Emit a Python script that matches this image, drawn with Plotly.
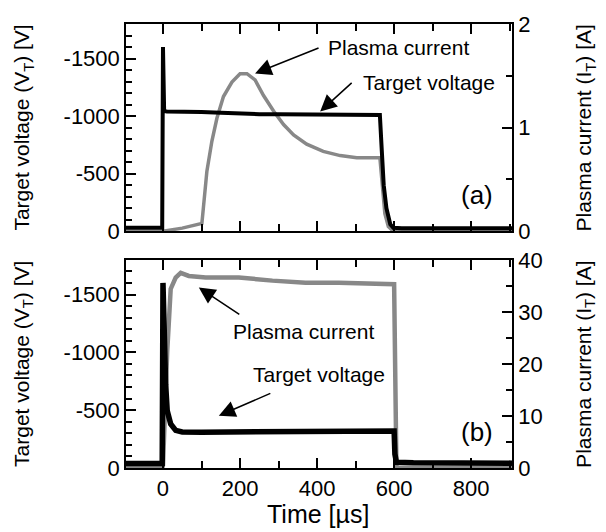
import plotly.graph_objects as go

# ---------------- data ----------------
# (a) target voltage [V] vs time [us]
t_va = [-96, -50, -2, 0, 1, 3, 10, 50, 100, 150, 200, 250, 300, 350, 400, 450,
        500, 540, 563, 568, 573, 580, 590, 598, 620, 700, 800, 906]
v_a = [-30, -32, -30, -1600, -1250, -1045, -1040, -1040, -1036, -1030, -1022, -1017,
       -1015, -1015, -1014, -1015, -1014, -1014, -1010, -700, -400, -200, -60, -30,
       -25, -25, -25, -25]

# (a) plasma current [A] vs time [us]
t_ia = [-96, 0, 50, 101, 114, 127, 140, 157, 179, 200, 218, 239, 261, 287, 313,
        339, 373, 416, 460, 503, 563, 568, 576, 585, 598, 700, 906]
i_a = [0.0, 0.0, 0.03, 0.076, 0.58, 0.87, 1.09, 1.30, 1.44, 1.52, 1.52, 1.46, 1.31,
       1.16, 1.03, 0.93, 0.84, 0.77, 0.73, 0.71, 0.71, 0.49, 0.17, 0.045, 0.0, 0.0, 0.0]

# (b) target voltage [V] vs time [us]
t_vb = [-96, -50, -2, 0, 2, 7, 11, 20, 33, 50, 100, 200, 300, 400, 500, 560, 600,
        602, 606, 650, 750, 906]
v_b = [-40, -42, -40, -1600, -1100, -720, -495, -380, -325, -312, -310, -312,
       -315, -320, -322, -322, -320, -120, -50, -45, -42, -42]

# (b) plasma current [A] vs time [us]
t_ib = [-96, -2, 0, 11, 20, 33, 46, 67, 111, 197, 284, 370, 456, 543, 600, 606, 650, 906]
i_b = [0.0, 0.0, 0.5, 22.4, 34.4, 36.6, 37.5, 36.9, 36.6, 36.6, 36.0, 35.6, 35.6,
       35.3, 35.3, 0.0, 0.0, 0.0]

x_range = [-96, 906]
x_ticks = [0, 200, 400, 600, 800]
x_ticktext = ["0", "200", "400", "600", "800"]
v_ticks = [0, -500, -1000, -1500]
v_ticktext = ["0", "-500", "-1000", "-1500"]
ia_ticks = [0, 1, 2]
ib_ticks = [0, 10, 20, 30, 40]

BLACK = "#000000"
GRAY = "#888888"
FONT = "Arial, Liberation Sans, sans-serif"

fig = go.Figure()
fig.add_trace(go.Scatter(x=t_ia, y=i_a, xaxis="x", yaxis="y", mode="lines",
                         line=dict(color=GRAY, width=3.5), showlegend=False))
fig.add_trace(go.Scatter(x=t_va, y=v_a, xaxis="x", yaxis="y2", mode="lines",
                         line=dict(color=BLACK, width=4), showlegend=False))
fig.add_trace(go.Scatter(x=t_ib, y=i_b, xaxis="x2", yaxis="y3", mode="lines",
                         line=dict(color=GRAY, width=4.5), showlegend=False))
fig.add_trace(go.Scatter(x=t_vb, y=v_b, xaxis="x2", yaxis="y4", mode="lines",
                         line=dict(color=BLACK, width=5.5), showlegend=False))

axis_common = dict(showline=True, linecolor="black", linewidth=1.5, ticks="inside",
                   ticklen=10, tickwidth=1.5, tickcolor="black", showgrid=False,
                   zeroline=False, tickfont=dict(size=22, family=FONT, color="black"))


def minor(d, ln=7):
    return dict(dtick=d, ticklen=ln, tickwidth=1.5, ticks="inside", tickcolor="black")


TOP = [0.5333, 1.0]
BOT = [0.0, 0.4689]

fig.update_layout(
    width=606, height=532,
    margin=dict(l=126, r=94, t=18, b=64),
    paper_bgcolor="white", plot_bgcolor="white",
    font=dict(family=FONT, size=21, color="black"),
    xaxis=dict(domain=[0, 1], anchor="y", range=x_range, tickvals=x_ticks,
               ticktext=x_ticktext, showticklabels=False, mirror="ticks",
               minor=minor(100), **axis_common),
    xaxis2=dict(domain=[0, 1], anchor="y3", range=x_range, tickvals=x_ticks,
                ticktext=x_ticktext, mirror="ticks", minor=minor(100), **axis_common),
    yaxis=dict(domain=TOP, anchor="x", side="right", range=[0, 2], tickvals=ia_ticks,
               minor=minor(0.5, 6), **axis_common),
    yaxis2=dict(overlaying="y", anchor="x", side="left", range=[0, -1800],
                tickvals=v_ticks, ticktext=v_ticktext, minor=minor(100, 6), **axis_common),
    yaxis3=dict(domain=BOT, anchor="x2", side="right", range=[0, 40], tickvals=ib_ticks,
                minor=minor(5, 6), **axis_common),
    yaxis4=dict(overlaying="y3", anchor="x2", side="left", range=[0, -1800],
                tickvals=v_ticks, ticktext=v_ticktext, minor=minor(100, 6), **axis_common),
)

ann = []
# axis titles
ann.append(dict(text="Target voltage (V<sub>T</sub>) [V]", xref="paper", yref="paper",
                x=-0.2668, y=0.7667, textangle=-90, showarrow=False,
                xanchor="center", yanchor="middle"))
ann.append(dict(text="Target voltage (V<sub>T</sub>) [V]", xref="paper", yref="paper",
                x=-0.2668, y=0.2344, textangle=-90, showarrow=False,
                xanchor="center", yanchor="middle"))
ann.append(dict(text="Plasma current (I<sub>T</sub>) [A]", xref="paper", yref="paper",
                x=1.189, y=0.7667, textangle=-90, showarrow=False,
                xanchor="center", yanchor="middle"))
ann.append(dict(text="Plasma current (I<sub>T</sub>) [A]", xref="paper", yref="paper",
                x=1.189, y=0.2344, textangle=-90, showarrow=False,
                xanchor="center", yanchor="middle"))
ann.append(dict(text="Time [\u00b5s]", xref="paper", yref="paper", x=0.497, y=-0.1044,
                showarrow=False, xanchor="center", yanchor="middle", font=dict(size=25)))

# panel labels
ann.append(dict(text="(a)", xref="x", yref="y2", x=815, y=-311, showarrow=False,
                xanchor="center", yanchor="middle", font=dict(size=26)))
ann.append(dict(text="(b)", xref="x2", yref="y4", x=815, y=-310, showarrow=False,
                xanchor="center", yanchor="middle", font=dict(size=26)))

# text labels
ann.append(dict(text="Plasma current", xref="x", yref="y2", x=423, y=-1594,
                showarrow=False, xanchor="left", yanchor="middle"))
ann.append(dict(text="Target voltage", xref="x", yref="y2", x=514, y=-1294,
                showarrow=False, xanchor="left", yanchor="middle"))
ann.append(dict(text="Plasma current", xref="x2", yref="y4", x=177, y=-1177,
                showarrow=False, xanchor="left", yanchor="middle"))
ann.append(dict(text="Target voltage", xref="x2", yref="y4", x=228, y=-810,
                showarrow=False, xanchor="left", yanchor="middle"))

# arrows
arrow_style = dict(text="", showarrow=True, arrowhead=2, arrowsize=2.2, arrowwidth=1.5,
                   arrowcolor="black", standoff=0, startstandoff=0)
ann.append(dict(xref="x", yref="y2", x=239, y=-1371, ax=65, ay=-26, **arrow_style))
ann.append(dict(xref="x", yref="y2", x=408, y=-1040, ax=33, ay=-30, **arrow_style))
ann.append(dict(xref="x2", yref="y4", x=93, y=-1561, ax=42, ay=28, **arrow_style))
ann.append(dict(xref="x2", yref="y4", x=145, y=-452, ax=53, ay=-23, **arrow_style))

fig.update_layout(annotations=ann)
fig.write_html(
    "out.html",
    config={"displayModeBar": False},
    post_script="document.body.style.margin='0';document.body.style.overflow='hidden';",
)
